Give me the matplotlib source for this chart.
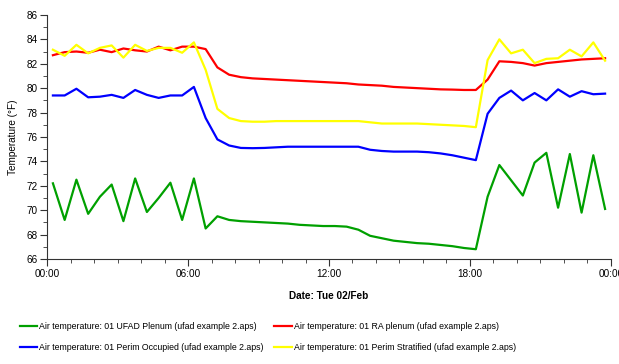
import matplotlib
matplotlib.use("Agg")
import matplotlib.pyplot as plt
import matplotlib.dates as mdates
import numpy as np
import pandas as pd

# half-hourly readings, 00:15 .. 23:45
times = pd.date_range("2016-02-02 00:15", periods=48, freq="30min")

ufad_plenum = [72.2, 69.2, 72.5, 69.7, 71.1, 72.1, 69.1, 72.6, 69.85, 71.0, 72.25, 69.2,
               72.6, 68.5, 69.5, 69.2,
               69.1, 69.05, 69.0, 68.95, 68.9, 68.8, 68.75, 68.7, 68.7, 68.65, 68.4,
               67.9, 67.7, 67.5, 67.4, 67.3, 67.25, 67.15, 67.05, 66.9, 66.8,
               71.1, 73.7, 72.45, 71.2, 73.9, 74.7, 70.2, 74.6, 69.8, 74.5, 70.1]

ra_plenum = [82.7, 82.95, 83.0, 82.9, 83.15, 82.95, 83.25, 83.1, 83.0, 83.4, 83.1, 83.4,
             83.4, 83.2, 81.7, 81.1,
             80.9, 80.8, 80.75, 80.7, 80.65, 80.6, 80.55, 80.5, 80.45, 80.4, 80.3,
             80.25, 80.2, 80.1, 80.05, 80.0, 79.95, 79.9, 79.88, 79.85, 79.85,
             80.7, 82.2, 82.15, 82.05, 81.85, 82.05, 82.15, 82.25, 82.35, 82.4, 82.45]

perim_occupied = [79.4, 79.4, 79.95, 79.25, 79.3, 79.45, 79.2, 79.85, 79.45, 79.2, 79.4, 79.4,
                  80.1, 77.55, 75.8, 75.3,
                  75.1, 75.08, 75.1, 75.15, 75.2, 75.2, 75.2, 75.2, 75.2, 75.2, 75.2,
                  74.95, 74.85, 74.8, 74.8, 74.8, 74.75, 74.65, 74.5, 74.3, 74.1,
                  77.9, 79.2, 79.8, 79.0, 79.6, 79.0, 79.9, 79.3, 79.75, 79.5, 79.55]

perim_stratified = [83.15, 82.65, 83.55, 82.85, 83.3, 83.5, 82.5, 83.55, 83.05, 83.3, 83.3, 82.9,
                    83.75, 81.5, 78.3, 77.55,
                    77.3, 77.25, 77.25, 77.3, 77.3, 77.3, 77.3, 77.3, 77.3, 77.3, 77.3,
                    77.2, 77.1, 77.1, 77.1, 77.1, 77.05, 77.0, 76.95, 76.9, 76.8,
                    82.3, 84.0, 82.85, 83.15, 82.05, 82.4, 82.45, 83.15, 82.6, 83.75, 82.25]

labels = ["Air temperature: 01 UFAD Plenum (ufad example 2.aps)",
          "Air temperature: 01 Perim Occupied (ufad example 2.aps)",
          "Air temperature: 01 RA plenum (ufad example 2.aps)",
          "Air temperature: 01 Perim Stratified (ufad example 2.aps)"]

plt.rcParams["font.family"] = ["Liberation Sans", "DejaVu Sans"]

fig = plt.figure(figsize=(6.19, 3.64), dpi=100)
ax = fig.add_axes([0.076, 0.2885, 0.911, 0.6705])

lw = 1.6
l1, = ax.plot(times, ufad_plenum, color="#00a000", lw=lw)
l3, = ax.plot(times, ra_plenum, color="#ff0000", lw=lw)
l2, = ax.plot(times, perim_occupied, color="#0000ff", lw=lw)
l4, = ax.plot(times, perim_stratified, color="#ffff00", lw=lw)

ax.set_xlim(pd.Timestamp("2016-02-02 00:00"), pd.Timestamp("2016-02-03 00:00"))
ax.set_ylim(66, 86)
ax.set_yticks(np.arange(66, 87, 2))
ax.set_yticks(np.arange(67, 86, 2), minor=True)
ax.xaxis.set_major_locator(mdates.HourLocator(byhour=[0, 6, 12, 18]))
ax.xaxis.set_minor_locator(mdates.HourLocator())
ax.xaxis.set_major_formatter(mdates.DateFormatter("%H:%M"))

for s in ["top", "right"]:
    ax.spines[s].set_visible(False)
for s in ["left", "bottom"]:
    ax.spines[s].set_color("#333333")
ax.tick_params(which="major", length=5, labelsize=7.2, color="#333333", pad=2)
ax.tick_params(which="minor", length=3, color="#333333")

ax.set_xlabel("Date: Tue 02/Feb", fontsize=7.2, fontweight="bold", labelpad=9)
ax.set_ylabel("Temperature (°F)", fontsize=7.2, labelpad=6)

fig.legend([l1, l2, l3, l4], labels, ncol=2, loc="upper left",
           bbox_to_anchor=(0.026, 0.124), frameon=False, fontsize=6.3,
           handlelength=2.0, handletextpad=0.25, columnspacing=1.2,
           labelspacing=1.3, borderaxespad=0)

fig.savefig("out.png", dpi=100)
